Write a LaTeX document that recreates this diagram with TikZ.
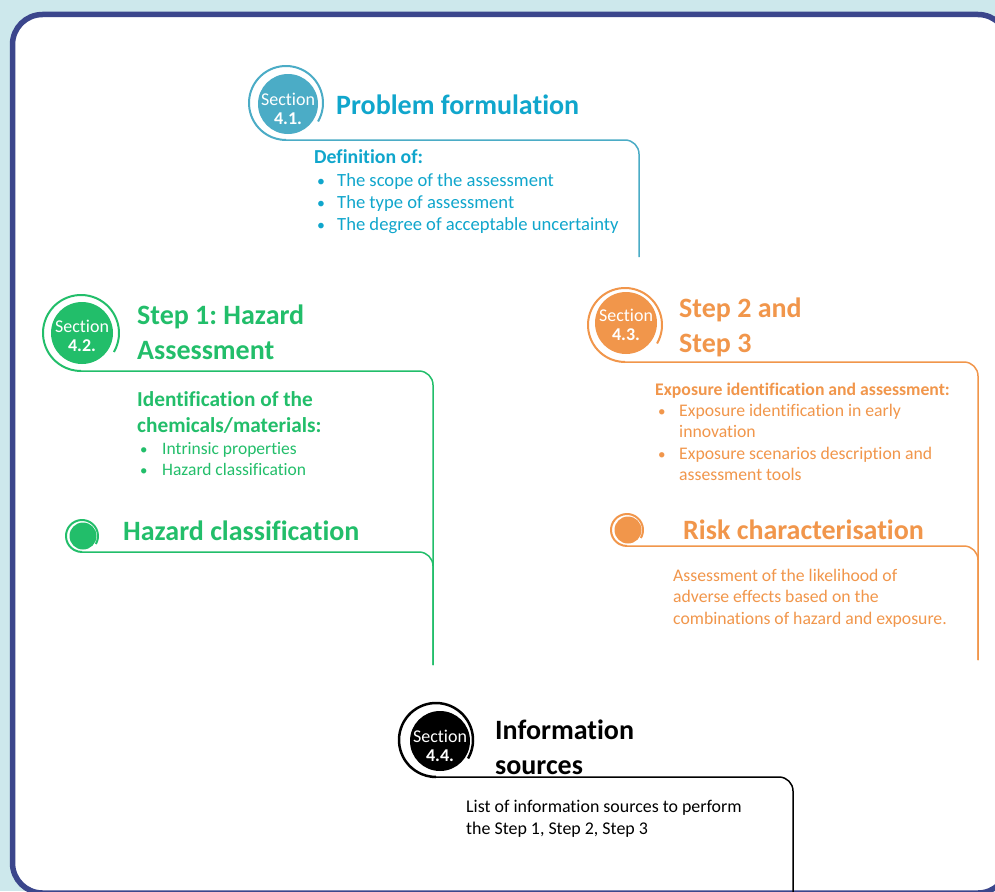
\documentclass[tikz,border=0pt]{standalone}
\usepackage{fontspec}
\setmainfont{Carlito}[Ligatures=NoCommon]
\frenchspacing
\usetikzlibrary{positioning,calc}
\definecolor{pageblue}{RGB}{205,232,236}
\definecolor{framenavy}{RGB}{59,70,140}
\definecolor{secblue}{RGB}{75,172,198}
\definecolor{txtblue}{RGB}{16,166,204}
\definecolor{secgreen}{RGB}{34,190,106}
\definecolor{secorange}{RGB}{241,150,75}
\tikzset{secdot/.style={circle,inner sep=0pt,minimum size=62pt},
         sectxt/.style={inner sep=0pt,text=white,align=center,font=\fontsize{18}{19.5}\selectfont},
         minidot/.style={circle,inner sep=0pt,minimum size=27pt},
         ring/.style={line width=2pt},
         rail/.style={line width=1.5pt,rounded corners=14pt},
         headtxt/.style={anchor=north west,inner sep=0pt,align=left,font=\bfseries\fontsize{28}{35}\selectfont},
         subtxt/.style={anchor=north west,inner sep=0pt,align=left},
         bodytxt/.style={anchor=north west,inner sep=0pt,align=left,font=\fontsize{17.7}{21.5}\selectfont}
}
\newcommand{\bulitem}[2][23pt]{\makebox[#1][l]{\hspace{3pt}\scalebox{0.85}{\textbullet}}#2}

\begin{document}
\begin{tikzpicture}[x=1pt,y=1pt,yscale=-1,xscale=1]
\useasboundingbox (0,0) rectangle (995,891);
\clip (0,0) rectangle (995,891);
\fill[pageblue] (0,0) rectangle (995,891);
%Frame
\draw[framenavy,line width=5.5pt,fill=white,rounded corners=30pt] (12.5,14.5) rectangle (1008,893);

%Section 4.1
\coordinate (ring41) at (286,103);
\coordinate (foot41) at (286,140);
\coordinate (rail41) at (639,257);
\node[secdot,fill=secblue,minimum size=60pt] (sec41) at (288,104) {};
\node[sectxt] (sec41txt) at ($(sec41)+(0,5)$) {Section\\\textbf{4.1.}};
\draw[ring,secblue] (ring41) ++(30:37) arc[start angle=30,end angle=-270,radius=37];
\draw[rail,secblue] (foot41) -- (foot41 -| rail41) -- (rail41);
% Text Node
\node[headtxt,text=txtblue] (head41) at (336,94.4) {Problem formulation};
\node[subtxt,text=txtblue,font=\bfseries\fontsize{19.8}{22}\selectfont] (sub41) at (314,149.5) {Definition of:};
\node[subtxt,text=txtblue,font=\fontsize{18.6}{22}\selectfont] (list41) at (314,173) {\bulitem{The scope of the assessment}\\\bulitem{The type of assessment}\\\bulitem{The degree of acceptable uncertainty}};

%Section 4.2
\coordinate (ring42) at (81,333);
\coordinate (foot42) at (81,371);
\coordinate (rail42) at (433,665);
\node[secdot,fill=secgreen] (sec42) at (82,333) {};
\node[sectxt] (sec42txt) at ($(sec42)+(0,3)$) {Section\\\textbf{4.2.}};
\draw[ring,secgreen] (ring42) ++(30:38) arc[start angle=30,end angle=-270,radius=38];
\draw[rail,secgreen] (foot42) -- (foot42 -| rail42) -- (rail42);
% Text Node
\node[headtxt,text=secgreen] (head42) at (137,304.4) {Step 1: Hazard\\Assessment};
\node[subtxt,text=secgreen,font=\bfseries\fontsize{21.3}{26}\selectfont] (sub42) at (137,391) {Identification of the\\chemicals/materials:};
\node[subtxt,text=secgreen,font=\fontsize{17.5}{21}\selectfont] (list42) at (137,442) {\bulitem[25pt]{Intrinsic properties}\\\bulitem[25pt]{Hazard classification}};
%Hazard classification
\coordinate (ring42b) at (82,536);
\coordinate (foot42b) at (82,552);
\node[minidot,fill=secgreen] (dot42) at (83,536) {};
\draw[ring,secgreen] (ring42b) ++(30:16) arc[start angle=30,end angle=-270,radius=16];
\draw[rail,secgreen] (foot42b) -- (foot42b -| rail42) -- (rail42);
\node[headtxt,text=secgreen] (class42) at (123,520.4) {Hazard classification};

%Section 4.3
\coordinate (ring43) at (625,325);
\coordinate (foot43) at (625,362);
\coordinate (rail43) at (978,660);
\node[secdot,fill=secorange] (sec43) at (626,323) {};
\node[sectxt] (sec43txt) at ($(sec43)+(0,2)$) {Section\\\textbf{4.3.}};
\draw[ring,secorange] (ring43) ++(30:37) arc[start angle=30,end angle=-270,radius=37];
\draw[rail,secorange] (foot43) -- (foot43 -| rail43) -- (rail43);
% Text Node
\node[headtxt,text=secorange] (head43) at (679,297.4) {Step 2 and\\Step 3};
\node[subtxt,text=secorange,font=\bfseries\fontsize{17.7}{21.5}\selectfont] (sub43) at (655,383) {Exposure identification and assessment:};
\node[subtxt,text=secorange,font=\fontsize{17.7}{21.5}\selectfont] (list43) at (655,404) {\bulitem[24pt]{Exposure identification in early}\\\hspace*{24pt}innovation\\\bulitem[24pt]{Exposure scenarios description and}\\\hspace*{24pt}assessment tools};
%Risk characterisation
\coordinate (ring43b) at (627,530);
\coordinate (foot43b) at (627,546);
\node[minidot,fill=secorange] (dot43) at (628,530) {};
\draw[ring,secorange] (ring43b) ++(30:16) arc[start angle=30,end angle=-270,radius=16];
\draw[rail,secorange] (foot43b) -- (foot43b -| rail43) -- (rail43);
\node[headtxt,text=secorange] (risk43) at (683,519.4) {Risk characterisation};
\node[bodytxt,text=secorange] (riskbody) at (673,569) {Assessment of the likelihood of\\adverse effects based on the\\combinations of hazard and exposure.};

%Section 4.4
\coordinate (ring44) at (436,740);
\coordinate (foot44) at (436,777);
\coordinate (rail44) at (793,900);
\node[secdot,fill=black,minimum size=60pt] (sec44) at (440,741) {};
\node[sectxt] (sec44txt) at ($(sec44)+(0,5)$) {Section\\\textbf{4.4.}};
\draw[ring,line width=2.5pt] (ring44) ++(30:37) arc[start angle=30,end angle=-270,radius=37];
\draw[rail] (foot44) -- (foot44 -| rail44) -- (rail44);
% Text Node
\node[headtxt] (head44) at (495,719.4) {Information\\sources};
\node[bodytxt,font=\fontsize{17.9}{22}\selectfont] (body44) at (466,800) {List of information sources to perform\\the Step 1, Step 2, Step 3};

\end{tikzpicture}
\end{document}
